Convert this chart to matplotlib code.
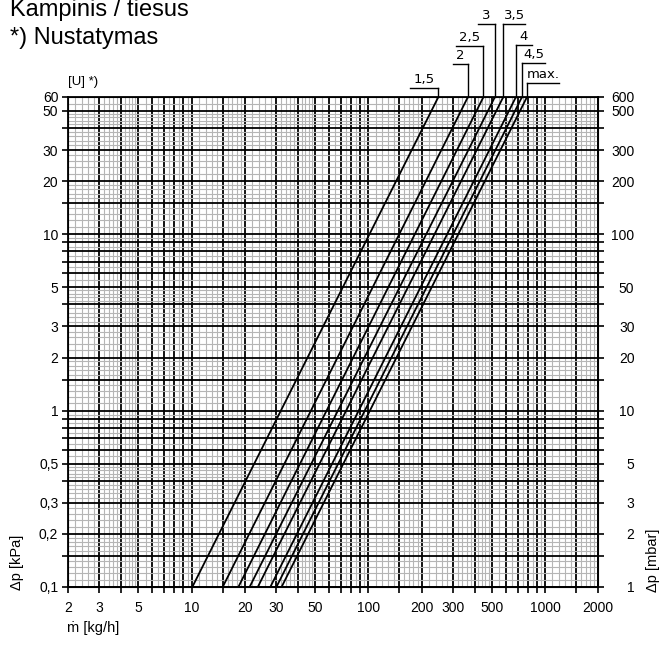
import numpy as np
import matplotlib.pyplot as plt
from matplotlib.ticker import FixedLocator, FixedFormatter, NullFormatter

# settings (curve labels) and flow at 0,1 kPa / at 60 kPa
settings = ["1,5", "2", "2,5", "3", "3,5", "4", "4,5", "max."]
m_bottom = [10.1, 15.0, 18.4, 21.3, 23.7, 27.9, 30.2, 32.3]
m_top = [249, 366, 448, 520, 580, 684, 740, 790]
dp_bottom = 0.1
dp_top = 60

x_labels = [2, 3, 5, 10, 20, 30, 50, 100, 200, 300, 500, 1000, 2000]
y_labels = [0.1, 0.2, 0.3, 0.5, 1, 2, 3, 5, 10, 20, 30, 50, 60]
y2_labels = [1, 2, 3, 5, 10, 20, 30, 50, 100, 200, 300, 500, 600]

# leader layout: (side, bar height above axes in px, bar length in px)
leaders = [(-1, 9, 28), (-1, 33, 15), (-1, 51, 27), (-1, 73, 17),
           (1, 73, 22), (1, 52, 16), (1, 34, 23), (1, 14, 32)]

plt.rcParams['font.family'] = ['Liberation Sans', 'DejaVu Sans']

fig = plt.figure(figsize=(6.6, 6.46), dpi=100)
ax = fig.add_axes([68/660, 1-587/646, 530.3/660, 490/646])

ax.set_xscale('log')
ax.set_yscale('log')
ax.set_xlim(2, 2000)
ax.set_ylim(0.1, 60)

steps = [1, 1.5, 2, 3, 4, 5, 6, 7, 8, 9]
fine = [1.1, 1.2, 1.3, 1.4, 1.6, 1.7, 1.8, 1.9, 2.2, 2.4, 2.6, 2.8,
        3.2, 3.4, 3.6, 3.8, 4.2, 4.4, 4.6, 4.8, 5.5, 6.5, 7.5, 8.5, 9.5]

def grid_pos(lo, hi, vals):
    out = []
    for d in [0.1, 1, 10, 100, 1000]:
        for v in vals:
            p = round(v * d, 6)
            if lo - 1e-9 <= p <= hi + 1e-9:
                out.append(p)
    return out

def fmt(v):
    s = ('%g' % v).replace('.', ',')
    return s

xmaj = grid_pos(2, 2000, steps)
ymaj = grid_pos(0.1, 60, steps)
ax.xaxis.set_major_locator(FixedLocator(xmaj))
ax.xaxis.set_major_formatter(FixedFormatter([fmt(v) if v in x_labels else '' for v in xmaj]))
ax.yaxis.set_major_locator(FixedLocator(ymaj))
ax.yaxis.set_major_formatter(FixedFormatter([fmt(v) if round(v, 6) in y_labels else '' for v in ymaj]))
ax.xaxis.set_minor_locator(FixedLocator(grid_pos(2, 2000, fine)))
ax.yaxis.set_minor_locator(FixedLocator(grid_pos(0.1, 60, fine)))
ax.xaxis.set_minor_formatter(NullFormatter())
ax.yaxis.set_minor_formatter(NullFormatter())

ax.grid(which='minor', color='#b5b5b5', lw=0.8, zorder=0)
ax.grid(which='major', color='black', lw=1.3, zorder=1)
ax.set_axisbelow(True)
ax.tick_params(which='major', length=4, width=1.2, labelsize=10, direction='out')
ax.tick_params(axis='x', pad=6)
ax.tick_params(axis='y', pad=3)
ax.tick_params(which='minor', length=0)
for s in ax.spines.values():
    s.set_linewidth(1.3)

ax2 = ax.twinx()
ax2.set_yscale('log')
ax2.set_ylim(1, 600)
y2maj = [round(v * 10, 6) for v in ymaj]
ax2.yaxis.set_major_locator(FixedLocator(y2maj))
ax2.yaxis.set_major_formatter(FixedFormatter([fmt(v) if v in y2_labels else '' for v in y2maj]))
ax2.yaxis.set_minor_locator(FixedLocator([]))
ax2.tick_params(which='major', length=4, width=1.2, labelsize=10, pad=22)
for lab in ax2.get_yticklabels():
    lab.set_horizontalalignment('right')

# the curves
for mb, mt in zip(m_bottom, m_top):
    ax.plot([mb, mt], [dp_bottom, dp_top], color='black', lw=1.3, zorder=3)

# labels with leader lines above the plot
tr = ax.get_xaxis_transform()
px_dec = 530.3 / 3
for name, mt, (side, h, L) in zip(settings, m_top, leaders):
    yb = 1 + h / 490
    xe = mt * 10 ** (side * L / px_dec)
    ax.plot([mt, mt], [1, yb], color='black', lw=1.0, transform=tr, clip_on=False)
    ax.plot([mt, xe], [yb, yb], color='black', lw=1.0, transform=tr, clip_on=False)
    ax.text(np.sqrt(mt * xe), yb + 2 / 490, name, transform=tr, ha='center', va='bottom',
            fontsize=9.5, family='DejaVu Sans')

fig.text(10/660, 1-16/646, "Kampinis / tiesus", fontsize=17, va='baseline')
fig.text(10/660, 1-44/646, "*) Nustatymas", fontsize=17, va='baseline')
fig.text(68/660, 1-82/646, "[U] *)", fontsize=9.5, va='center')
fig.text(17/660, 1-590/646, "Δp [kPa]", fontsize=10.5, rotation=90, ha='center', va='bottom')
fig.text(653/660, 1-592/646, "Δp [mbar]", fontsize=10.5, rotation=90, ha='center', va='bottom')
fig.text(67/660, 1-628/646, "ṁ [kg/h]", fontsize=10.5, va='center')

fig.savefig('out.png', dpi=100)
